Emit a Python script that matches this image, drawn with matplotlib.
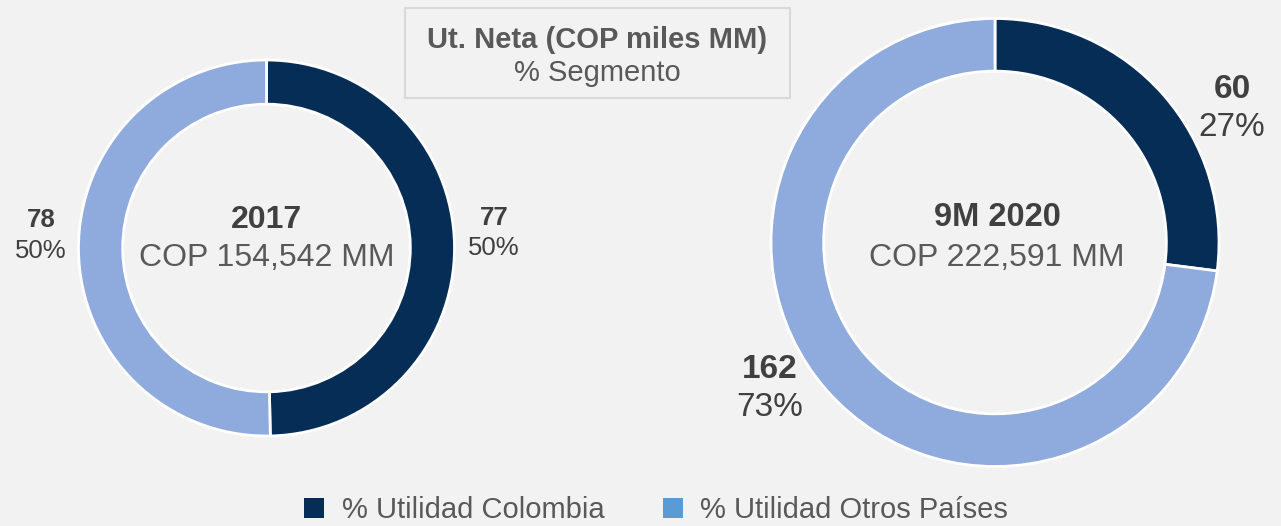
import matplotlib.pyplot as plt
from matplotlib.patches import Patch, Rectangle

plt.rcParams['font.family'] = ['Liberation Sans', 'DejaVu Sans']

# Data
series = ['% Utilidad Colombia', '% Utilidad Otros Países']
titles = ['2017', '9M 2020']
totals = ['COP 154,542 MM', 'COP 222,591 MM']
values_2017 = [77, 78]
values_2020 = [60, 162]
pct_2017 = ['50%', '50%']
pct_2020 = ['27%', '73%']

dark = '#062D55'
light = '#8FAADC'
legend_light = '#5B9BD5'
txt = '#404040'
bg = '#F2F2F2'

W, H = 1281, 526
fig = plt.figure(figsize=(W / 100, H / 100), dpi=100, facecolor=bg)
ax = fig.add_axes([0, 0, 1, 1])
ax.set_xlim(0, W)
ax.set_ylim(0, H)
ax.set_aspect('equal')
ax.axis('off')

def Y(py):
    return H - py

# donuts: center and radius in pixels
donuts = [
    (values_2017, (266.5, Y(248)), 188),
    (values_2020, (995, Y(242.5)), 224),
]
for vals, c, r in donuts:
    ax.pie(vals, colors=[dark, light], startangle=90, counterclock=False,
           center=c, radius=r, frame=True,
           wedgeprops=dict(width=r * 0.235, edgecolor='white', linewidth=2))
ax.set_xlim(0, W)
ax.set_ylim(0, H)
ax.axis('off')

# center texts
ax.text(266.5, Y(220), titles[0], ha='center', va='center', fontsize=23, fontweight='bold', color=txt)
ax.text(266.5, Y(258), totals[0], ha='center', va='center', fontsize=23, color='#595959')
ax.text(997, Y(218), titles[1], ha='center', va='center', fontsize=23.5, fontweight='bold', color=txt)
ax.text(997, Y(258), totals[1], ha='center', va='center', fontsize=23, color='#595959')

# segment labels
def seg(x, y1, y2, v, p, fs):
    ax.text(x, Y(y1), str(v), ha='center', va='center', fontsize=fs, fontweight='bold', color=txt)
    ax.text(x, Y(y2), p, ha='center', va='center', fontsize=fs, color=txt)

seg(494, 218, 248, values_2017[0], pct_2017[0], 18.5)
seg(41, 220, 251, values_2017[1], pct_2017[1], 18.5)
seg(1232, 90, 127, values_2020[0], pct_2020[0], 24)
seg(770, 370, 408, values_2020[1], pct_2020[1], 24)

# title box
ax.add_patch(Rectangle((405, Y(98)), 385, 90, facecolor=bg, edgecolor='#D9D9D9', linewidth=1.5))
ax.text(597, Y(40), 'Ut. Neta (COP miles MM)', ha='center', va='center', fontsize=21, fontweight='bold', color='#595959')
ax.text(597, Y(73), '% Segmento', ha='center', va='center', fontsize=21, color='#595959')

# legend
handles = [Patch(facecolor=dark), Patch(facecolor=legend_light)]
leg = fig.legend(handles, series, loc='center', bbox_to_anchor=(656 / W, 1 - 510 / H),
                 ncol=2, frameon=False, fontsize=21, handlelength=0.7, handleheight=0.7,
                 handletextpad=0.6, columnspacing=2.0)
for t in leg.get_texts():
    t.set_color('#595959')

fig.savefig('out.png', dpi=100, facecolor=bg)
